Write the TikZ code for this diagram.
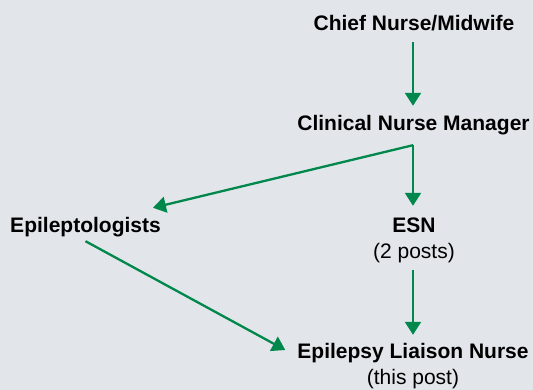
\documentclass[tikz,border=0pt]{standalone}
\usepackage{fontspec}
\setmainfont{Liberation Sans}
\usetikzlibrary{arrows.meta}
\definecolor{bgc}{HTML}{E2E6EA}
\definecolor{grn}{HTML}{00874B}
\begin{document}
\begin{tikzpicture}[x=1pt,y=1pt,
  lbl/.style={inner sep=0pt, text height=15pt, text depth=5pt, anchor=base, font=\fontsize{21}{24}\selectfont\bfseries},
  sub/.style={inner sep=0pt, text height=15pt, text depth=5pt, anchor=base, font=\fontsize{21}{24}\selectfont},
  arr/.style={draw=grn, line width=2.3pt, -{Triangle[width=16pt,length=13pt]}}]
\fill[bgc] (0,0) rectangle (533,390);
\useasboundingbox (0,0) rectangle (533,390);
\node[lbl] (chief) at (414,390-31) {Chief Nurse/Midwife};
\node[lbl] (cnm) at (413.5,390-131) {Clinical Nurse Manager};
\node[lbl] (epi) at (85.5,390-233) {Epileptologists};
\node[lbl] (esn) at (414,390-233) {ESN};
\node[sub] (esnsub) at (414,390-259) {(2 posts)};
\node[lbl] (eln) at (413,390-359) {Epilepsy Liaison Nurse};
\node[sub] (elnsub) at (413,390-385) {(this post)};
\coordinate (cnmout) at ([yshift=-9pt]cnm.south -| 413,0);
\draw[arr, shorten <=6pt, shorten >=10pt] (chief.south -| 413,0) -- (cnm.north -| 413,0);
\draw[arr, shorten >=12pt] (cnmout) -- (esn.north -| 413,0);
\draw[arr] (cnmout) -- ([shift={(-8pt,10pt)}]epi.north east);
\draw[arr, shorten <=6pt, shorten >=9pt] (esnsub.south -| 413,0) -- (eln.north -| 413,0);
\draw[arr] ([yshift=-3pt]epi.south) -- ([shift={(-12pt,4pt)}]eln.west);
\end{tikzpicture}
\end{document}
